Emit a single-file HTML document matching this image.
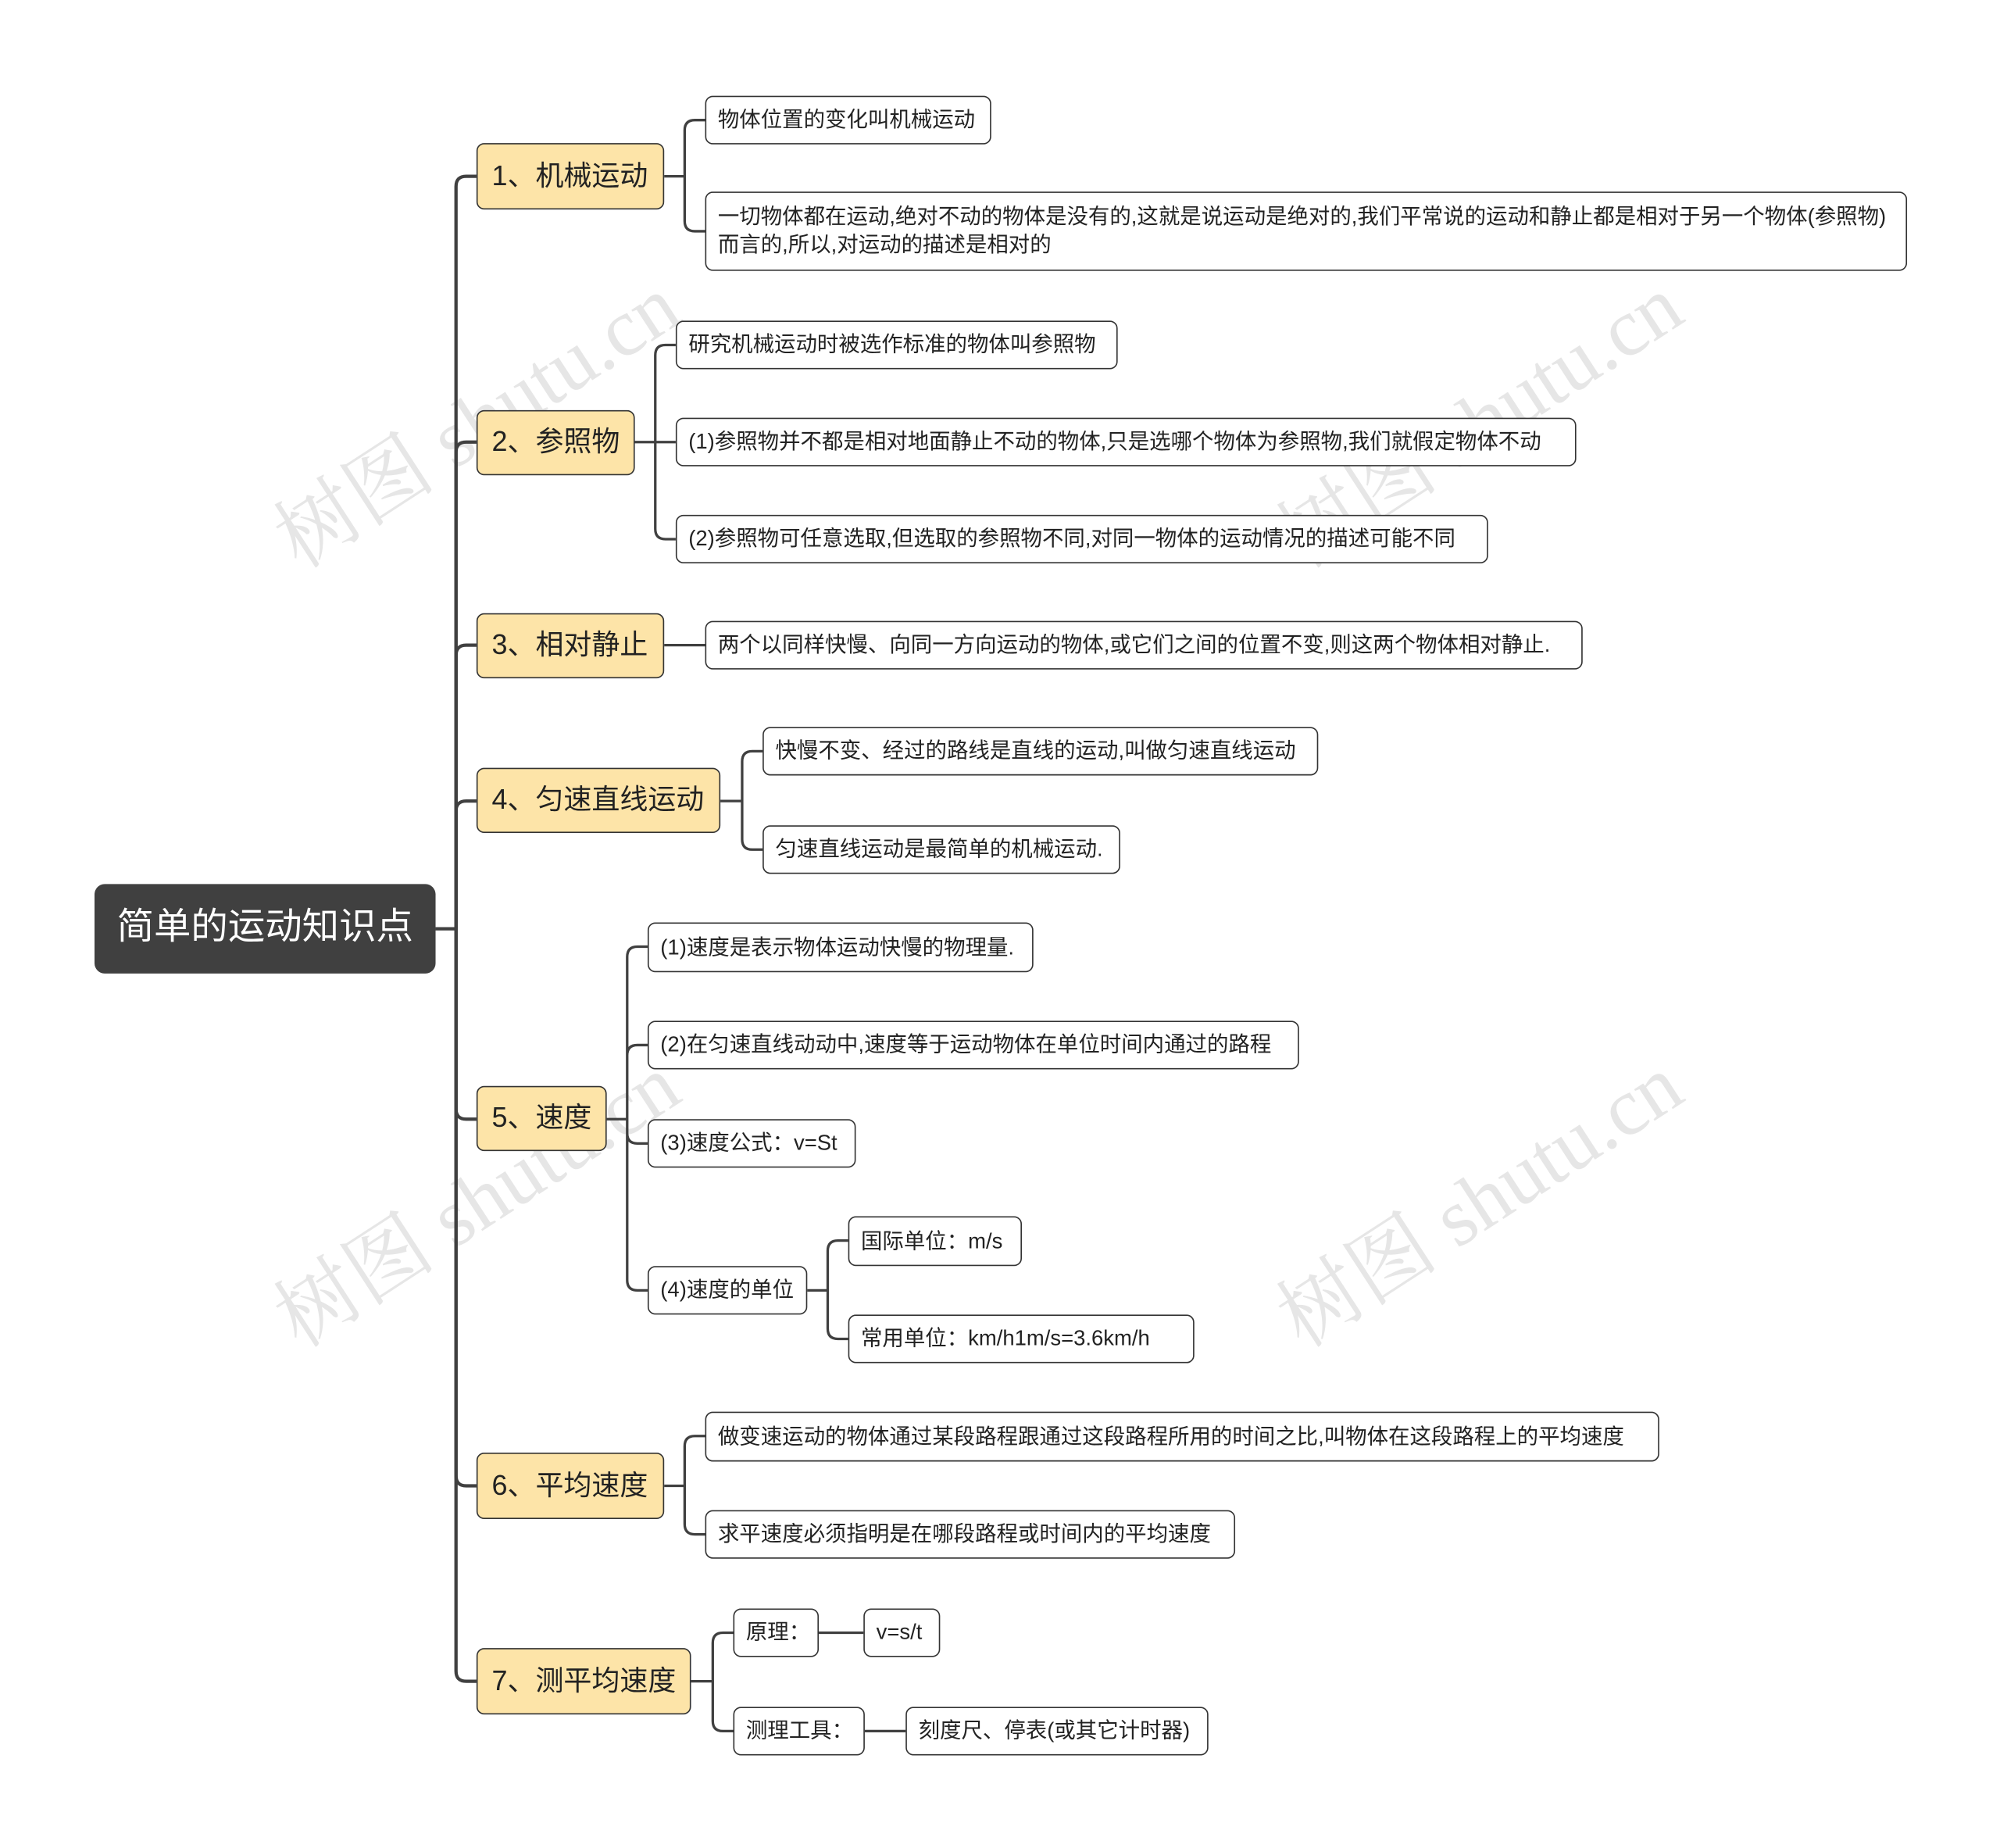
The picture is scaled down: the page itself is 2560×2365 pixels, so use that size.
<!DOCTYPE html>
<html><head><meta charset="utf-8"><style>
html,body{margin:0;padding:0;background:#fff;}
body{width:2560px;height:2365px;overflow:hidden;position:relative;font-family:"Liberation Sans","Noto Sans CJK SC",sans-serif;}
#c{position:absolute;left:0;top:0;width:1560px;height:1441px;transform:scale(1.635);transform-origin:0 0;}
.n{position:absolute;box-sizing:border-box;border:1.3px solid #333;border-radius:6px;background:#fff;color:#222;font-size:16.8px;display:flex;align-items:center;padding:0 9px;line-height:1.3;white-space:nowrap;}
.l1{background:#fde4a8;font-size:22px;border:1.5px solid #333;padding:0 11px;}
.root{background:#404040;color:#fff;font-size:29px;border:none;border-radius:8px;justify-content:center;}
.w{position:absolute;color:#e6e6e6;font-size:64px;font-family:"Liberation Serif","Noto Serif CJK SC",serif;transform:rotate(-33deg);transform-origin:0 0;white-space:nowrap;}
svg{position:absolute;left:0;top:0;}
</style></head><body><div id="c">
<div class="w" style="left:195px;top:385px">树图 shutu.cn</div>
<div class="w" style="left:980px;top:385px">树图 shutu.cn</div>
<div class="w" style="left:195px;top:995px">树图 shutu.cn</div>
<div class="w" style="left:980px;top:995px">树图 shutu.cn</div>
<svg width="1560" height="1441" fill="none" stroke="#404040" stroke-width="2.6">
<path d="M341 727H357"/>
<path d="M357 727V146Q357 138 365 138H373"/>
<path d="M357 727V354Q357 346 365 346H373"/>
<path d="M357 727V513Q357 505 365 505H373"/>
<path d="M357 727V635Q357 627 365 627H373"/>
<path d="M357 727V868Q357 876 365 876H373"/>
<path d="M357 727V1155Q357 1163 365 1163H373"/>
<path d="M357 727V1308Q357 1316 365 1316H373"/>
<g stroke-width="2">
<path d="M520 138H536V102Q536 94 544 94H552M536 138V173Q536 181 544 181H552"/>
<path d="M497 346H529M513 346V278Q513 270 521 270H529M513 346V414Q513 422 521 422H529"/>
<path d="M520 505H552"/>
<path d="M564 627H581V596Q581 588 589 588H597M581 627V657Q581 665 589 665H597"/>
<path d="M475 876H491V749Q491 741 499 741H507M491 876V826Q491 818 499 818H507M491 876V887Q491 895 499 895H507M491 876V1002Q491 1010 499 1010H507"/>
<path d="M632 1010H648V979Q648 971 656 971H664M648 1010V1040Q648 1048 656 1048H664"/>
<path d="M520 1163H536V1132Q536 1124 544 1124H552M536 1163V1193Q536 1201 544 1201H552"/>
<path d="M541 1316H558V1286Q558 1278 566 1278H574M558 1316V1347Q558 1355 566 1355H574"/>
<path d="M641 1278H676M677 1355H709"/>
</g></svg>
<div class="n root" style="left:74px;top:692px;width:267px;height:70px">简单的运动知识点</div>
<div class="n l1" style="left:373px;top:112px;width:147px;height:52px">1、机械运动</div>
<div class="n l1" style="left:373px;top:321px;width:124px;height:51px">2、参照物</div>
<div class="n l1" style="left:373px;top:480px;width:147px;height:51px">3、相对静止</div>
<div class="n l1" style="left:373px;top:601px;width:191px;height:51px">4、匀速直线运动</div>
<div class="n l1" style="left:373px;top:850px;width:102px;height:51px">5、速度</div>
<div class="n l1" style="left:373px;top:1137px;width:147px;height:52px">6、平均速度</div>
<div class="n l1" style="left:373px;top:1290px;width:168px;height:52px">7、测平均速度</div>

<div class="n" style="left:552px;top:75px;width:224px;height:38px">物体位置的变化叫机械运动</div>
<div class="n" style="left:552px;top:150px;width:941px;height:62px;white-space:normal;line-height:22px">一切物体都在运动,绝对不动的物体是没有的,这就是说运动是绝对的,我们平常说的运动和静止都是相对于另一个物体(参照物)而言的,所以,对运动的描述是相对的</div>
<div class="n" style="left:529px;top:251px;width:346px;height:38px">研究机械运动时被选作标准的物体叫参照物</div>
<div class="n" style="left:529px;top:327px;width:705px;height:38px">(1)参照物并不都是相对地面静止不动的物体,只是选哪个物体为参照物,我们就假定物体不动</div>
<div class="n" style="left:529px;top:403px;width:636px;height:38px">(2)参照物可任意选取,但选取的参照物不同,对同一物体的运动情况的描述可能不同</div>
<div class="n" style="left:552px;top:486px;width:687px;height:38px">两个以同样快慢、向同一方向运动的物体,或它们之间的位置不变,则这两个物体相对静止.</div>
<div class="n" style="left:597px;top:569px;width:435px;height:38px">快慢不变、经过的路线是直线的运动,叫做匀速直线运动</div>
<div class="n" style="left:597px;top:646px;width:280px;height:38px">匀速直线运动是最简单的机械运动.</div>
<div class="n" style="left:507px;top:722px;width:302px;height:39px">(1)速度是表示物体运动快慢的物理量.</div>
<div class="n" style="left:507px;top:799px;width:510px;height:38px">(2)在匀速直线动动中,速度等于运动物体在单位时间内通过的路程</div>
<div class="n" style="left:507px;top:876px;width:163px;height:38px">(3)速度公式：v=St</div>
<div class="n" style="left:507px;top:991px;width:125px;height:38px">(4)速度的单位</div>
<div class="n" style="left:664px;top:952px;width:136px;height:39px">国际单位：m/s</div>
<div class="n" style="left:664px;top:1029px;width:271px;height:38px">常用单位：km/h1m/s=3.6km/h</div>
<div class="n" style="left:552px;top:1105px;width:747px;height:39px">做变速运动的物体通过某段路程跟通过这段路程所用的时间之比,叫物体在这段路程上的平均速度</div>
<div class="n" style="left:552px;top:1182px;width:415px;height:38px">求平速度必须指明是在哪段路程或时间内的平均速度</div>
<div class="n" style="left:574px;top:1259px;width:67px;height:38px">原理：</div>
<div class="n" style="left:676px;top:1259px;width:60px;height:38px">v=s/t</div>
<div class="n" style="left:574px;top:1336px;width:103px;height:38px">测理工具：</div>
<div class="n" style="left:709px;top:1336px;width:237px;height:38px">刻度尺、停表(或其它计时器)</div>
</div></body></html>
